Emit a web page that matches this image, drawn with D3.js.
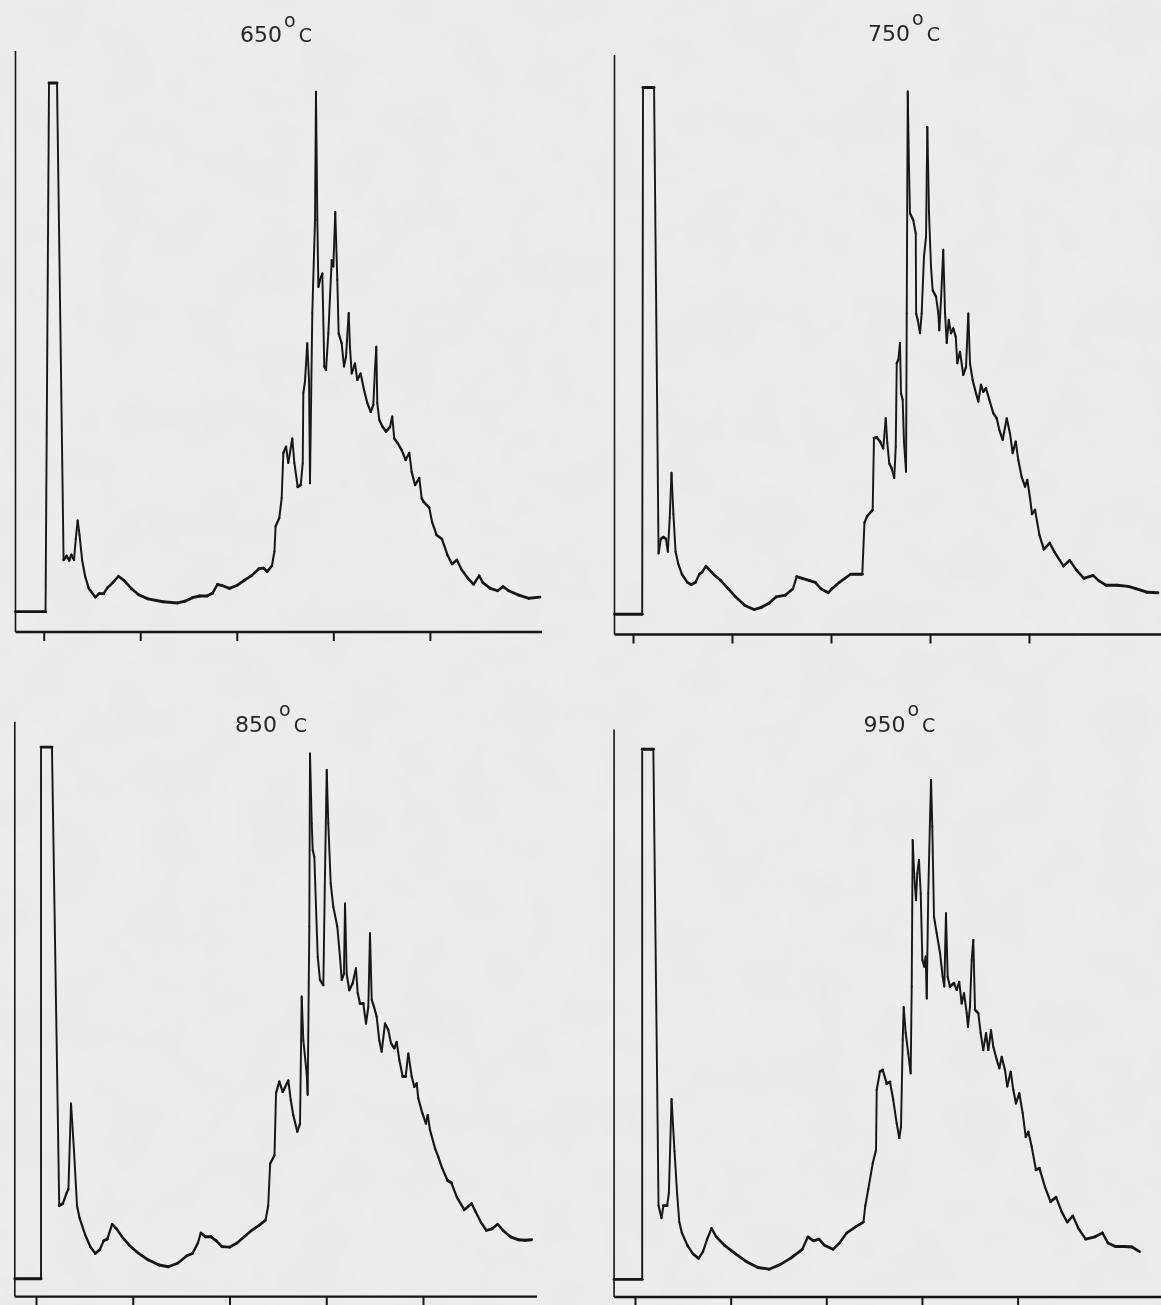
<!DOCTYPE html>
<html>
<head>
<meta charset="utf-8">
<script src="https://cdn.jsdelivr.net/npm/d3@7"></script>
<style>
  html, body { margin: 0; padding: 0; background: #ededed; }
  svg { display: block; }
</style>
</head>
<body>
<svg id="chart" width="1161" height="1305"></svg>
<script>
// Pyrolysis gas chromatograms at four furnace temperatures.
// Each trace: [retention time (min), detector signal (% of full scale)].
const temperatures = [650, 750, 850, 950];
const tickMinutes = [0, 10, 20, 30, 40];

const trace650 = [
  [-2.92,3.5],[0.19,3.5],[0.55,94.5],[1.38,94.5],[2.06,12.4],[2.37,13.1],[2.64,12.3],[2.87,13.3],[3.14,12.4],
  [3.32,16.0],[3.52,19.2],[3.71,16.7],[3.98,12.4],[4.29,9.6],[4.67,7.5],[5.35,6.0],[5.74,6.6],[6.2,6.6],
  [6.59,7.6],[7.16,8.5],[7.74,9.6],[8.31,8.9],[9.07,7.5],[9.84,6.4],[10.8,5.7],[12.34,5.2],[13.87,5.0],
  [14.63,5.3],[15.4,5.9],[16.17,6.2],[16.93,6.2],[17.5,6.7],[18.0,8.2],[18.47,8.0],[19.23,7.5],[20.0,8.0],
  [20.77,8.9],[21.53,9.7],[22.3,10.9],[22.75,11.0],[23.14,10.4],[23.64,11.4],[23.9,13.9],[24.02,18.2],
  [24.4,19.6],[24.65,23.1],[24.82,30.8],[25.1,31.9],[25.33,29.1],[25.75,33.3],[25.96,29.1],[26.31,25.0],
  [26.62,25.3],[26.83,29.1],[26.89,41.1],[27.06,43.1],[27.3,49.7],[27.48,43.4],[27.58,25.6],[27.82,54.9],
  [28.1,70.9],[28.2,93.0],[28.34,70.9],[28.45,59.4],[28.62,60.6],[28.86,61.7],[29.06,45.7],[29.24,45.1],
  [29.48,51.4],[29.83,64.0],[30.0,62.9],[30.2,72.3],[30.41,60.6],[30.55,51.4],[30.86,49.7],[31.1,45.7],
  [31.31,47.4],[31.59,54.9],[31.72,49.1],[31.9,44.5],[32.24,46.2],[32.48,43.4],[32.83,44.5],[33.17,41.7],
  [33.52,39.4],[33.87,37.9],[34.14,39.1],[34.31,45.1],[34.45,49.1],[34.55,39.4],[34.76,36.5],[35.11,35.3],
  [35.45,34.5],[35.87,35.3],[36.1,37.1],[36.31,33.3],[36.66,32.5],[37.08,31.3],[37.49,29.6],[37.87,30.8],
  [38.11,27.6],[38.46,25.3],[38.9,26.5],[39.15,23.0],[39.35,22.4],[39.93,21.4],[40.23,18.9],[40.69,16.7],
  [41.25,16.0],[41.46,15.0],[41.83,13.2],[42.29,11.7],[42.8,12.4],[43.29,10.7],[43.95,9.2],[44.53,8.2],
  [45.1,9.7],[45.48,8.5],[46.25,7.5],[47.01,7.1],[47.58,7.8],[48.16,7.1],[49.12,6.4],[50.26,5.8],[51.4,6.0]
];

const trace750 = [
  [-1.87,3.5],[0.93,3.5],[1.01,94.4],[2.13,94.4],[2.58,14.0],[2.81,16.5],[3.07,16.8],[3.33,16.5],[3.52,14.3],
  [3.71,20.1],[3.89,27.9],[4.08,20.8],[4.3,14.3],[4.57,12.2],[4.94,10.4],[5.49,9.0],[5.88,8.6],[6.32,9.0],
  [6.7,10.4],[7.0,10.8],[7.37,11.8],[8.12,10.4],[8.87,9.3],[9.62,7.9],[10.36,6.5],[11.3,5.0],[12.23,4.3],
  [12.98,4.7],[13.73,5.4],[14.48,6.5],[15.41,6.8],[16.16,7.9],[16.54,10.0],[17.1,9.7],[17.85,9.3],[18.41,9.0],
  [18.97,7.9],[19.72,7.2],[20.1,7.9],[20.85,9.0],[21.4,9.7],[21.97,10.4],[23.16,10.4],[23.38,19.3],[23.65,20.4],
  [24.21,21.5],[24.34,33.9],[24.62,34.0],[24.95,33.3],[25.28,32.1],[25.53,37.3],[25.69,33.0],[25.89,29.5],
  [26.13,28.7],[26.39,27.0],[26.54,32.4],[26.64,46.8],[26.8,47.4],[26.97,50.3],[27.07,41.6],[27.24,40.5],
  [27.37,33.3],[27.58,28.1],[27.65,55.4],[27.75,93.7],[27.88,80.2],[27.98,72.7],[28.31,71.5],[28.56,69.2],
  [28.6,55.4],[28.76,54.3],[28.99,52.0],[29.16,55.4],[29.39,65.2],[29.6,68.6],[29.73,87.6],[29.9,72.7],
  [30.1,63.5],[30.27,59.4],[30.61,58.3],[30.84,55.4],[30.94,52.5],[31.11,57.7],[31.34,66.4],[31.52,55.4],
  [31.69,50.3],[31.89,54.3],[32.12,52.0],[32.35,52.8],[32.6,51.4],[32.76,46.8],[33.03,48.8],[33.36,44.8],
  [33.64,46.2],[33.87,55.4],[34.04,46.8],[34.31,43.9],[34.65,41.6],[34.88,40.2],[35.15,43.1],[35.38,41.9],
  [35.66,42.5],[35.99,40.5],[36.39,38.2],[36.74,37.3],[37.0,35.3],[37.34,33.6],[37.75,37.3],[38.08,34.7],
  [38.35,31.3],[38.66,33.3],[38.92,30.1],[39.26,27.2],[39.6,25.5],[39.83,26.7],[40.1,23.6],[40.3,20.8],
  [40.61,21.5],[41.05,17.2],[41.5,14.7],[42.1,15.8],[42.55,14.3],[43.48,11.8],[44.12,12.8],[44.8,11.1],
  [45.55,9.7],[46.47,10.2],[47.04,9.3],[47.79,8.5],[48.91,8.5],[50.03,8.3],[50.79,7.9],[51.91,7.3],[53.03,7.2]
];

const trace850 = [
  [-2.19,3.1],[0.52,3.1],[0.52,95.6],[1.65,95.6],[2.4,15.8],[2.78,16.2],[3.16,18.0],[3.35,18.7],[3.62,33.6],
  [3.93,25.3],[4.24,15.8],[4.5,13.7],[5.07,10.8],[5.64,8.6],[6.14,7.5],[6.6,8.2],[6.99,9.7],[7.37,10.0],
  [7.87,12.6],[8.32,11.8],[8.9,10.4],[9.66,8.9],[10.62,7.5],[11.58,6.4],[12.72,5.5],[13.67,5.2],[14.64,5.8],
  [15.59,7.1],[16.17,7.5],[16.73,9.3],[17.04,11.1],[17.5,10.4],[18.08,10.4],[18.65,9.7],[19.22,8.7],
  [19.99,8.6],[20.75,9.3],[21.52,10.4],[22.28,11.5],[23.05,12.4],[23.73,13.3],[24.0,15.8],[24.2,23.1],
  [24.65,24.6],[24.81,35.4],[25.15,37.4],[25.5,35.6],[26.08,37.6],[26.33,34.2],[26.59,31.6],[27.01,28.7],
  [27.29,30.1],[27.46,52.2],[27.63,44.6],[27.98,38.8],[28.08,35.1],[28.25,64.4],[28.32,94.5],[28.5,82.3],
  [28.6,77.7],[28.77,76.5],[28.94,67.8],[29.12,59.1],[29.35,55.1],[29.7,54.2],[29.87,73.6],[30.05,91.6],
  [30.21,82.3],[30.46,71.9],[30.73,67.8],[31.14,64.4],[31.42,59.1],[31.6,55.1],[31.83,56.2],[31.94,68.4],
  [32.11,56.2],[32.38,53.3],[32.73,54.5],[33.07,57.1],[33.25,52.8],[33.49,51.0],[33.83,51.0],[34.11,47.5],
  [34.35,50.4],[34.52,63.2],[34.7,51.6],[34.94,50.4],[35.21,48.7],[35.48,44.6],[35.73,42.6],[36.07,47.5],
  [36.41,46.4],[36.69,44.1],[37.03,43.2],[37.28,44.3],[37.55,41.2],[37.9,38.3],[38.21,38.3],[38.48,42.3],
  [38.83,38.3],[39.1,36.5],[39.35,37.1],[39.51,34.5],[39.93,31.9],[40.31,30.1],[40.49,31.6],[40.72,29.0],
  [41.24,25.8],[41.58,24.3],[41.97,22.4],[42.54,20.2],[42.93,19.8],[43.5,17.3],[44.27,15.1],[45.03,16.2],
  [45.42,14.8],[46.0,12.9],[46.56,11.5],[47.13,11.8],[47.71,12.6],[48.28,11.5],[49.04,10.4],[49.82,9.9],
  [50.57,9.8],[51.22,9.9]
];

const trace950 = [
  [-2.19,3.1],[0.75,3.1],[0.75,96.5],[1.92,96.5],[2.46,16.1],[2.77,13.9],[2.97,16.1],[3.36,16.1],[3.54,18.3],
  [3.82,34.9],[4.13,25.7],[4.4,18.3],[4.63,13.2],[4.9,11.3],[5.48,9.1],[6.06,7.6],[6.65,6.8],[7.11,8.0],
  [7.54,10.2],[8.0,12.1],[8.5,10.6],[9.36,9.1],[10.52,7.6],[11.68,6.2],[12.84,5.2],[14.01,4.9],[15.17,5.7],
  [16.33,6.9],[17.49,8.4],[18.08,10.6],[18.65,9.9],[19.24,10.2],[19.81,9.1],[20.7,8.4],[21.37,9.5],
  [22.14,11.3],[23.1,12.4],[23.88,13.2],[24.08,16.1],[24.39,19.0],[24.85,23.5],[25.2,25.9],[25.27,36.5],
  [25.61,39.7],[25.9,40.0],[26.32,37.6],[26.66,37.9],[27.0,34.7],[27.36,30.6],[27.63,28.0],[27.81,30.0],
  [27.99,45.3],[28.09,51.1],[28.3,46.5],[28.57,42.9],[28.82,39.4],[28.93,54.7],[29.03,80.5],[29.2,74.0],
  [29.38,69.9],[29.51,74.6],[29.69,77.0],[29.87,71.1],[30.04,59.4],[30.25,58.2],[30.39,60.0],[30.5,52.6],
  [30.66,71.1],[30.84,84.0],[30.95,91.1],[31.08,82.9],[31.26,67.0],[31.54,64.1],[31.89,60.6],[32.17,56.4],
  [32.34,54.7],[32.51,67.6],[32.69,56.4],[32.93,54.7],[33.35,55.3],[33.63,54.1],[33.9,55.5],[34.15,51.7],
  [34.4,53.5],[34.68,50.0],[34.81,47.6],[35.02,51.1],[35.2,59.4],[35.37,62.9],[35.55,50.6],[35.89,50.0],
  [36.14,46.5],[36.41,43.5],[36.7,46.5],[36.94,43.5],[37.22,47.0],[37.46,44.1],[37.82,41.8],[38.09,40.3],
  [38.34,42.3],[38.68,40.0],[38.92,37.1],[39.28,39.7],[39.55,36.5],[39.83,34.1],[40.18,35.9],[40.53,32.4],
  [40.85,28.2],[41.12,29.1],[41.47,26.5],[41.92,22.4],[42.28,22.7],[42.86,19.4],[43.44,16.8],[44.02,17.6],
  [44.61,15.0],[45.19,13.2],[45.77,14.3],[46.35,12.1],[47.12,10.2],[48.09,10.6],[48.87,11.3],[49.45,9.5],
  [50.22,8.9],[51.2,8.9],[51.96,8.8],[52.75,8.0]
];

const traces = [trace650, trace750, trace850, trace950];

// Panel frames on the page (pixels): axis extents, tick span, title anchor.
const frames = [
  { left: 15.5,  right: 542,  axisY: 632,    topY: 51,    tick0: 43.7, tick4: 429.9,  titleX: 240,   titleY: 42 },
  { left: 614.5, right: 1161, axisY: 634.5,  topY: 55,    tick0: 633,  tick4: 1029,   titleX: 868,   titleY: 40.5 },
  { left: 14.8,  right: 537,  axisY: 1296.6, topY: 721.8, tick0: 36,   tick4: 423,    titleX: 235,   titleY: 731.5 },
  { left: 614.1, right: 1161, axisY: 1297,   topY: 729.4, tick0: 635,  tick4: 1017.6, titleX: 863.4, titleY: 731.5 }
];

const INK = "#161616";
const svg = d3.select("#chart");
const defs = svg.append("defs");

// faint paper grain
const grain = defs.append("filter").attr("id", "grain")
  .attr("x", 0).attr("y", 0).attr("width", "100%").attr("height", "100%");
grain.append("feTurbulence").attr("type", "fractalNoise")
  .attr("baseFrequency", "0.02").attr("numOctaves", 3).attr("seed", 11);
grain.append("feColorMatrix").attr("type", "matrix")
  .attr("values", "0.33 0.33 0.33 0 0  0.33 0.33 0.33 0 0  0.33 0.33 0.33 0 0  0 0 0 0 0.045");

// slightly spread pen ink
const ink = defs.append("filter").attr("id", "ink")
  .attr("x", "-5%").attr("y", "-5%").attr("width", "110%").attr("height", "110%");
ink.append("feGaussianBlur").attr("stdDeviation", 0.5);

svg.append("rect").attr("width", 1161).attr("height", 1305).attr("fill", "#eeeeee");
svg.append("rect").attr("width", 1161).attr("height", 1305).attr("filter", "url(#grain)");

frames.forEach((f, i) => {
  const x = d3.scaleLinear()
    .domain([tickMinutes[0], tickMinutes[tickMinutes.length - 1]])
    .range([f.tick0, f.tick4]);
  const y = d3.scaleLinear().domain([0, 100]).range([f.axisY, f.topY]);

  const g = svg.append("g").attr("filter", "url(#ink)");

  // signal axis (plain line, no ticks)
  g.append("line")
    .attr("x1", f.left).attr("x2", f.left)
    .attr("y1", y(0)).attr("y2", y(100))
    .attr("stroke", INK).attr("stroke-width", 1.6);

  // time axis with unlabelled ticks
  g.append("line")
    .attr("x1", f.left).attr("x2", f.right)
    .attr("y1", y(0)).attr("y2", y(0))
    .attr("stroke", INK).attr("stroke-width", 2.4);

  const axis = d3.axisBottom(x)
    .tickValues(tickMinutes)
    .tickSize(9)
    .tickSizeOuter(0)
    .tickFormat("");
  const ax = g.append("g").attr("transform", `translate(0,${y(0)})`).call(axis);
  ax.select(".domain").remove();
  ax.selectAll(".tick line").attr("stroke", INK).attr("stroke-width", 2);

  // recorder trace: pen line is finer where it moved quickly (steep strokes)
  const pts = traces[i].map(d => [x(d[0]), y(d[1])]);
  g.append("g").selectAll("line")
    .data(d3.pairs(pts))
    .join("line")
    .attr("x1", d => d[0][0]).attr("y1", d => d[0][1])
    .attr("x2", d => d[1][0]).attr("y2", d => d[1][1])
    .attr("stroke", INK)
    .attr("stroke-linecap", "round")
    .attr("stroke-width", d => {
      const dx = d[1][0] - d[0][0], dy = d[1][1] - d[0][1];
      const len = Math.hypot(dx, dy) || 1;
      return 1.9 + 1.0 * Math.abs(dx) / len;
    });

  // temperature label: number, raised "o", then "C"
  const t = g.append("text")
    .attr("x", f.titleX).attr("y", f.titleY)
    .attr("font-family", "DejaVu Sans, sans-serif")
    .attr("font-size", 22)
    .attr("fill", "#262626");
  t.append("tspan").text(temperatures[i]);
  t.append("tspan").attr("font-size", 19).attr("dx", 2).attr("dy", -15.5).text("o");
  t.append("tspan").attr("font-size", 19).attr("dx", 3).attr("dy", 15.5).text("C");
});
</script>
</body>
</html>
